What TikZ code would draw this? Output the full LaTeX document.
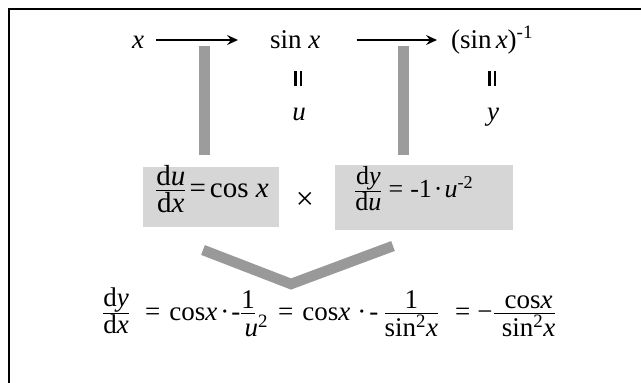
\documentclass[tikz,border=0pt]{standalone}
\usepackage{amsmath}
\usepackage{graphicx}
\usepackage{fontspec}
\setmainfont{Liberation Serif}
\usetikzlibrary{arrows.meta}
\newcommand{\vi}[1]{\textit{#1}}
\newcommand{\fr}[2]{$\genfrac{}{}{0.9pt}{1}{\mbox{\raisebox{2pt}{#1}}}{\mbox{\raisebox{-2.5pt}{#2}}}$}
\newcommand{\vbars}{\rule{2.2pt}{15pt}\hspace{3pt}\rule{2.2pt}{15pt}}
\newcommand{\fs}[1]{\fontsize{#1}{#1}\selectfont}
\begin{document}
\begin{tikzpicture}[x=1pt,y=-1pt,
  every node/.style={inner sep=0pt},
  toprow/.style={font=\fs{27}, text height=16pt, text depth=0pt},
  arr/.style={line width=1.8pt, -{Stealth[length=11pt,width=10pt,inset=4pt]}},
  shadebar/.style={fill=gray!78},
  shadebox/.style={fill=gray!32, anchor=west, inner ysep=0pt},
  vband/.style={draw=gray!80, line width=10.5pt, line join=miter}]
\useasboundingbox (0,0) rectangle (641,383);
\fill[white] (0,0) rectangle (641,383);
\draw[line width=2.6pt] (9,383) -- (9,9) -- (641,9);

% vertical shaded bars
\fill[shadebar] (199,46) rectangle (210,155);
\fill[shadebar] (398,46) rectangle (409,155);

% top row
\node[toprow, anchor=west] (x) at (132,40) {\vi{x}};
\node[toprow, anchor=west] (s) at (270,40) {sin \vi{x}};
\node[toprow, anchor=west] (si) at (451,40) {(sin\hspace{0.15em}\vi{x})\textsuperscript{\fs{19}-1}};
\draw[arr, shorten <=12pt, shorten >=32pt] (x.east) -- (s.west);
\draw[arr, shorten <=36pt, shorten >=14pt] (s.east) -- (si.west);

\node (e1) at (298,78) {\vbars};
\node[font=\fs{27}, anchor=base] (u) at (299,120) {\vi{u}};
\node (e2) at (492,78) {\vbars};
\node[font=\fs{27}, anchor=base] (y) at (493,120) {\vi{y}};

% boxes
\node[shadebox, font=\fs{29}, text height=30pt, text depth=30pt] (b1) at (143,197)
  {\makebox[136pt][l]{\hspace{12pt}\fr{d\vi{u}}{d\vi{x}}\hspace{3pt}=\hspace{4pt}cos \vi{x}}};
\node[font=\fs{32}] (times) at (305,201) {×};
\node[shadebox, font=\fs{26}, text height=32.5pt, text depth=32.5pt] (b2) at (335,197.5)
  {\makebox[178pt][l]{\hspace{19pt}\fr{d\vi{y}}{d\vi{u}}\hspace{6pt}=\hspace{7pt}-1\hspace{2pt}·\hspace{2pt}\vi{u}\textsuperscript{-2}}};

% V shape
\draw[vband] (203,250) -- (291,284) -- (393,246);

% bottom equation
\node[font=\fs{27}, anchor=base west] (eq) at (102,320)
  {\fr{d\vi{y}}{d\vi{x}}\hspace{15pt}=\hspace{9pt}cos\vi{x}\hspace{3pt}·\hspace{2pt}-\fr{1}{\makebox[13pt][l]{\hspace{3pt}\vi{u}\textsuperscript{2}}}\hspace{22pt}=\hspace{9pt}cos\vi{x}\hspace{7pt}·\hspace{3pt}-\hspace{5pt}\fr{1}{sin\textsuperscript{2}\vi{x}}\hspace{16pt}=\hspace{7pt}−\fr{\hspace{8pt}cos\vi{x}}{\hspace{8pt}sin\textsuperscript{2}\vi{x}}};
\end{tikzpicture}
\end{document}
